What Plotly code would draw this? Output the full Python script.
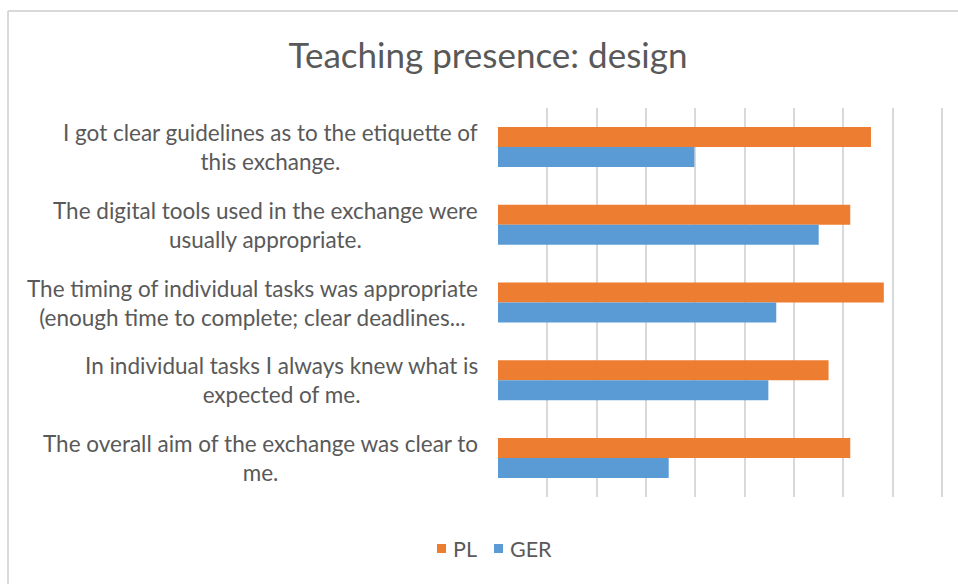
import plotly.graph_objects as go

categories = [
    "I got clear guidelines as to the etiquette of<br>this exchange.",
    "The digital tools used in the exchange were<br>usually appropriate.",
    "The timing of individual tasks was appropriate<br>(enough time to complete; clear deadlines...",
    "In individual tasks I always knew what is<br>expected of me.",
    "The overall aim of the exchange was clear to<br>me.",
]
series_names = ["PL", "GER"]
pl_values = [3.78, 3.57, 3.91, 3.35, 3.57]
ger_values = [1.99, 3.25, 2.82, 2.74, 1.73]
series_colors = ["#ED7D31", "#5B9BD5"]

TXT = "#595959"
FONT = "Lato, Calibri, sans-serif"

fig = go.Figure()
for name, vals, col in zip(series_names, [pl_values, ger_values], series_colors):
    fig.add_trace(go.Bar(y=categories, x=vals, name=name, orientation="h",
                         marker=dict(color=col, line=dict(width=0))))

L, R, T, B = 498, 14, 108, 87
W, H = 958, 584
pw, ph = W - L - R, H - T - B
def px(x):
    return (x - L) / pw
def py(y):
    return (H - B - y) / ph

annotations = []
for c in categories:
    annotations.append(dict(x=px(480), y=c, xref="paper", yref="y", text=c,
                            xanchor="right", yanchor="middle", align="center",
                            showarrow=False, font=dict(family=FONT, size=22.5, color=TXT)))

shapes = [
    dict(type="line", xref="paper", yref="paper", x0=px(8), x1=px(8), y0=py(H + 5), y1=py(11),
         line=dict(color="#D9D9D9", width=2)),
    dict(type="line", xref="paper", yref="paper", x0=px(8), x1=px(W + 5), y0=py(11), y1=py(11),
         line=dict(color="#D9D9D9", width=2)),
]

# manual legend (Excel style: small square + name)
legend_x = [437, 494]
for name, col, lx in zip(series_names, series_colors, legend_x):
    shapes.append(dict(type="rect", xref="paper", yref="paper",
                       x0=px(lx), x1=px(lx + 9), y0=py(553), y1=py(544),
                       fillcolor=col, line=dict(width=0)))
    annotations.append(dict(x=px(lx + 14), y=py(548.5), xref="paper", yref="paper",
                            text=name, xanchor="left", yanchor="middle", showarrow=False,
                            font=dict(family=FONT, size=21.5, color=TXT)))

fig.update_layout(
    width=W, height=H,
    margin=dict(l=L, r=R, t=T, b=B),
    paper_bgcolor="white", plot_bgcolor="white",
    barmode="group", bargap=0.486, bargroupgap=0,
    title=dict(text="Teaching presence: design", x=488 / W, xanchor="center",
               xref="container", yref="container",
               y=1 - 56 / H, yanchor="middle",
               font=dict(family=FONT, size=35, color=TXT)),
    xaxis=dict(range=[0, 4.52], dtick=0.5, tick0=0, showticklabels=False,
               showgrid=True, gridcolor="#D9D9D9", gridwidth=1.5, zeroline=False,
               showline=False, fixedrange=True),
    yaxis=dict(autorange="reversed", showticklabels=False, showgrid=False,
               zeroline=False, showline=False, ticks=""),
    annotations=annotations,
    shapes=shapes,
    showlegend=False,
)

fig.write_html(
    "out.html",
    config={"displayModeBar": False},
    post_script="document.body.style.margin='0';document.body.style.overflow='hidden';",
)
